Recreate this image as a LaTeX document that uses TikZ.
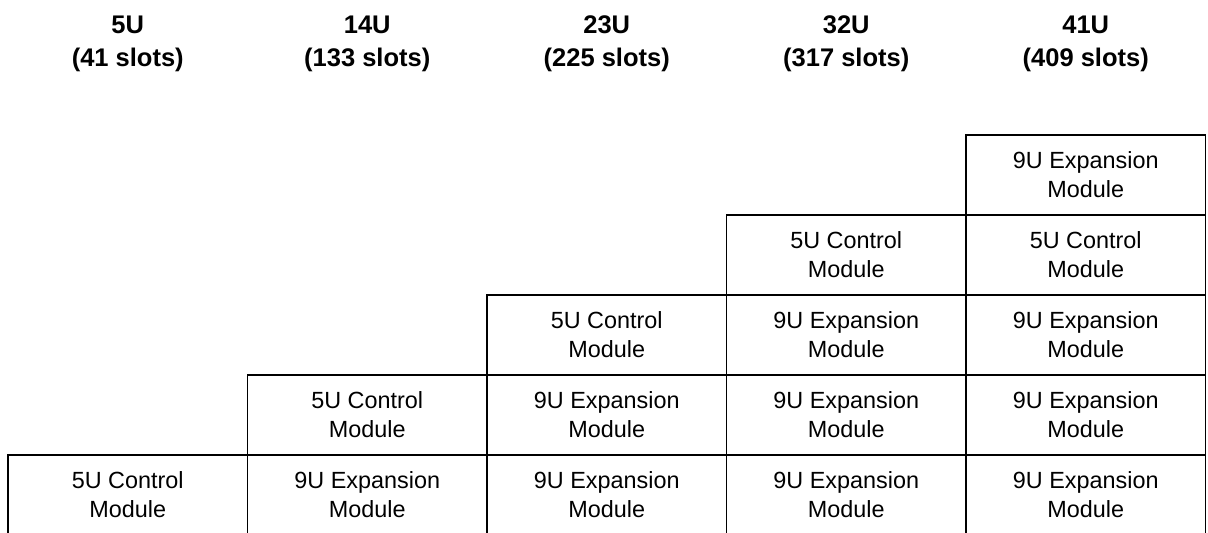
\documentclass[tikz,border=0pt]{standalone}
\usepackage{fontspec}
\setmainfont{Liberation Sans}
\begin{document}
\begin{tikzpicture}[x=1pt,y=-1pt,
  modbox/.style={draw=black,line width=1.8pt,minimum width=239.5pt,minimum height=80pt,inner sep=0pt,
    align=center,font=\fontsize{23.4}{29}\selectfont},
  head/.style={align=center,font=\fontsize{25.5}{33}\selectfont\bfseries}]
\useasboundingbox (0,0) rectangle (1208,533);
\clip (0,0) rectangle (1208,533);
% headers
\node[head] (h1) at (127.75,44) {5U\\(41 slots)};
\node[head] (h2) at (367.25,44) {14U\\(133 slots)};
\node[head] (h3) at (606.75,44) {23U\\(225 slots)};
\node[head] (h4) at (846.25,44) {32U\\(317 slots)};
\node[head] (h5) at (1085.75,44) {41U\\(409 slots)};
% column 1
\node[modbox] (c1r1) at (127.75,495) {5U Control\\Module};
% column 2
\node[modbox] (c2r1) at (367.25,495) {9U Expansion\\Module};
\node[modbox] (c2r2) at (367.25,415) {5U Control\\Module};
% column 3
\node[modbox] (c3r1) at (606.75,495) {9U Expansion\\Module};
\node[modbox] (c3r2) at (606.75,415) {9U Expansion\\Module};
\node[modbox] (c3r3) at (606.75,335) {5U Control\\Module};
% column 4
\node[modbox] (c4r1) at (846.25,495) {9U Expansion\\Module};
\node[modbox] (c4r2) at (846.25,415) {9U Expansion\\Module};
\node[modbox] (c4r3) at (846.25,335) {9U Expansion\\Module};
\node[modbox] (c4r4) at (846.25,255) {5U Control\\Module};
% column 5
\node[modbox] (c5r1) at (1085.75,495) {9U Expansion\\Module};
\node[modbox] (c5r2) at (1085.75,415) {9U Expansion\\Module};
\node[modbox] (c5r3) at (1085.75,335) {9U Expansion\\Module};
\node[modbox] (c5r4) at (1085.75,255) {5U Control\\Module};
\node[modbox] (c5r5) at (1085.75,175) {9U Expansion\\Module};
\end{tikzpicture}
\end{document}
